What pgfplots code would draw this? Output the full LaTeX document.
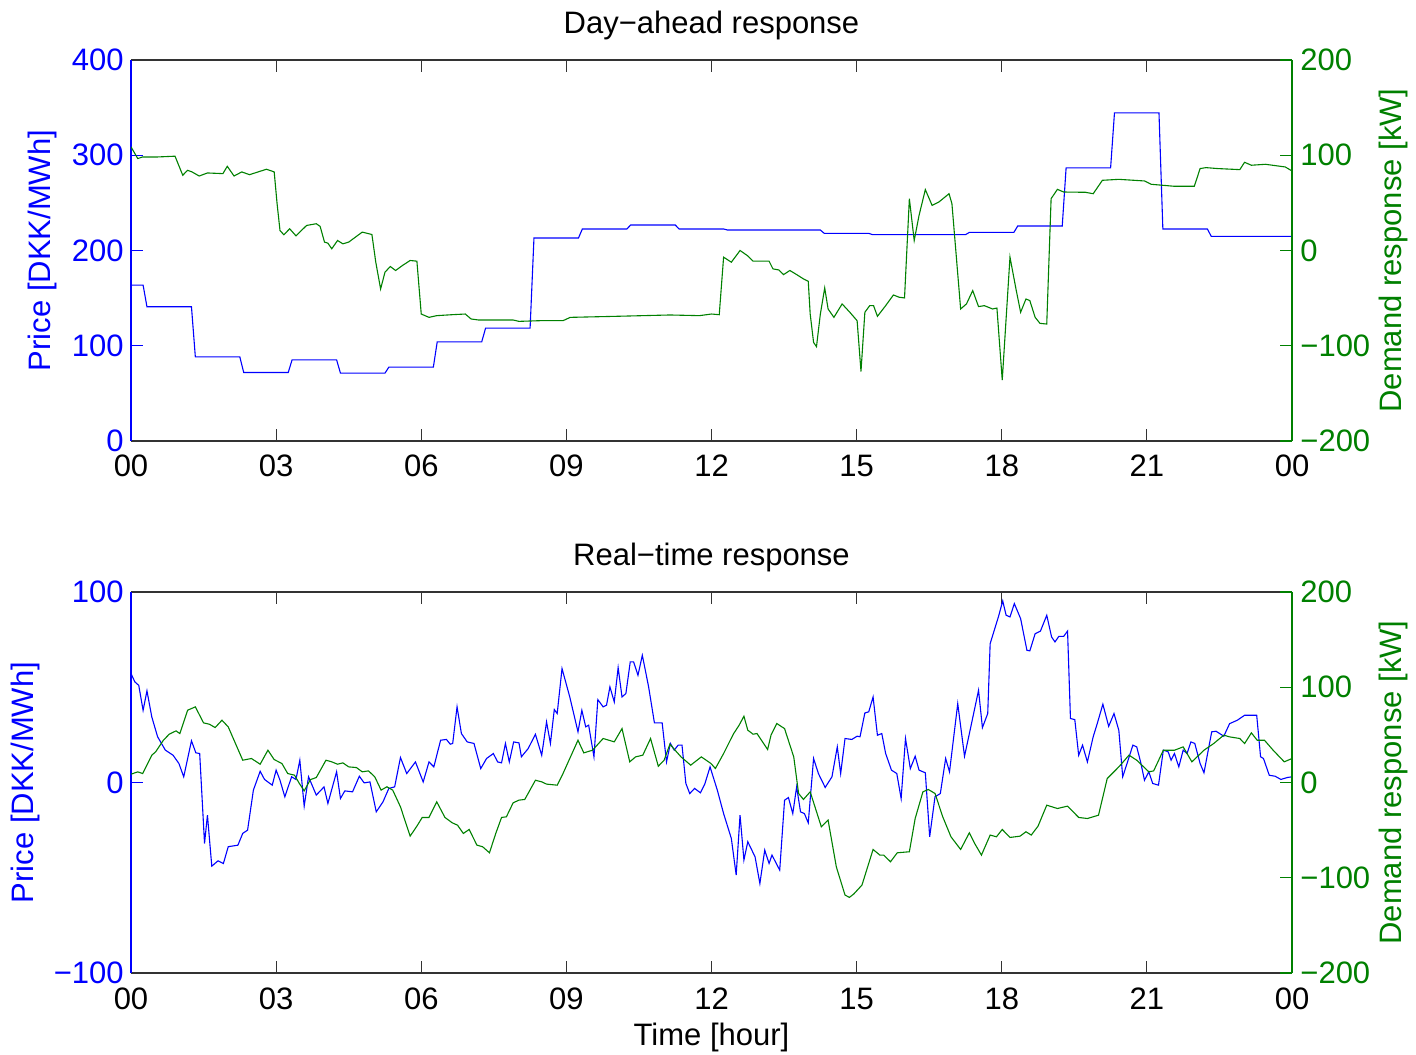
\documentclass[border=0pt]{standalone}
\usepackage{fontspec}
\setmainfont{Liberation Sans}
\usepackage{pgfplots}
\pgfplotsset{compat=1.18}

\definecolor{mblue}{rgb}{0,0,1}
\definecolor{mgreen}{rgb}{0,0.5,0}
\newcommand{\fs}{\fontsize{15.5}{18}\selectfont}

\pgfplotsset{
  base/.style={
    width=580.5pt, height=190.5pt, scale only axis,
    xmin=0, xmax=24,
    tick align=inside, major tick length=6pt,
    tick label style={font=\fs}, label style={font=\fs}, title style={font=\fs},
    axis line style={line width=0.6pt},
    every tick/.append style={line width=0.6pt},
  },
  leftax/.style={
    base,
    axis x line*=box, axis y line*=left,
    x axis line style={black!80}, y axis line style={mblue},
    xtick={0,3,...,24}, xticklabels={00,03,06,09,12,15,18,21,00},
    xtick style={black!80}, ytick style={mblue},
    xticklabel pos=lower,
    xticklabel style={anchor=base, yshift=-18pt},
    yticklabel style={mblue, inner sep=0pt, anchor=east, xshift=-3.5pt},
    title style={at={(0.5,1)}, anchor=base, yshift=7pt},
  },
  rightax/.style={
    base,
    axis x line=none, axis y line*=right, xtick=\empty,
    y axis line style={mgreen}, ytick style={mgreen},
    ymin=-200, ymax=200, ytick={-200,-100,0,100,200},
    yticklabels={−200,−100,0,100,200},
    yticklabel pos=right,
    yticklabel style={mgreen, inner sep=0pt, anchor=west, xshift=4pt},
    ylabel={Demand response [kW]},
    ylabel style={mgreen, at={(axis description cs:1,0.5)}, anchor=center, rotate=0, xshift=0pt, yshift=-50.5pt},
  },
}

\begin{document}
\begin{tikzpicture}
\useasboundingbox (-65.5pt,-40.5pt) rectangle (642.5pt,486.5pt);

% ---------- Day-ahead ----------
\begin{axis}[leftax, at={(0,266pt)},
  ymin=0, ymax=400, ytick={0,100,200,300,400},
  yticklabels={0,100,200,300,400},
  title={Day−ahead response},
  ylabel={Price [DKK/MWh]},
  ylabel style={mblue, at={(axis description cs:0,0.5)}, anchor=center, xshift=0pt, yshift=44.5pt},
]
\addplot[mblue, line width=0.55pt] coordinates {
(0,163.7) (0.25,163.7) (0.33,140.9) (1.25,140.9) (1.33,88.3) (2.25,88.3)
(2.33,71.9) (3.25,71.9) (3.33,85.2) (4.25,85.2) (4.33,71.2) (5.25,71.2)
(5.33,77.5) (6.25,77.5) (6.33,104.1) (7.25,104.1) (7.33,118.5) (8.25,118.5)
(8.33,213.1) (9.25,213.1) (9.33,222.6) (10.25,222.6) (10.33,226.8) (11.25,226.8)
(11.33,222.6) (12.25,222.6) (12.33,221.5) (14.25,221.5) (14.33,218) (15.25,218)
(15.33,216.6) (17.25,216.6) (17.33,219) (18.25,219) (18.33,225.7) (19.25,225.7)
(19.33,286.7) (20.25,286.7) (20.33,344.5) (21.25,344.5) (21.33,222.6) (22.25,222.6)
(22.33,214.9) (24,214.9)
};
\end{axis}
\begin{axis}[rightax, at={(0,266pt)}]
\addplot[mgreen, line width=0.55pt] coordinates {
(0,108.8) (0.14,96.5) (0.24,98.2) (0.55,98.2) (0.91,99) (1.07,79) (1.17,84.2)
(1.26,82.5) (1.41,78.2) (1.58,81.4) (1.90,80.7) (1.99,88.4) (2.13,78.2) (2.29,82.5)
(2.45,79.6) (2.80,85.3) (2.96,82.5) (3.02,49.1) (3.08,21) (3.16,16.5) (3.28,22.8)
(3.41,15.4) (3.63,26.3) (3.83,28.1) (3.91,25.3) (4.00,8.8) (4.07,7.7) (4.15,1.8)
(4.27,10.5) (4.38,7) (4.50,8.8) (4.78,19.3) (4.98,16.8) (5.06,-12.3) (5.16,-40.4)
(5.25,-22.8) (5.36,-16.8) (5.47,-21) (5.61,-15.8) (5.77,-10.5) (5.91,-11.2) (5.96,-42.1)
(6.00,-66.7) (6.16,-70.2) (6.32,-68.4) (6.64,-67.4) (6.91,-66.7) (7.03,-71.9) (7.19,-73)
(7.90,-73) (8.02,-74.4) (8.45,-73.7) (8.93,-73.7) (9.08,-70.2) (10.03,-69.1) (11.14,-67.7)
(11.75,-68.4) (12,-66.7) (12.16,-67.4) (12.25,-7) (12.41,-12.3) (12.59,0) (12.74,-5.3)
(12.86,-11.2) (13.06,-11.2) (13.19,-11.2) (13.27,-19.3) (13.39,-20.4) (13.49,-25.3)
(13.62,-21) (13.76,-25.3) (13.90,-29.8) (14.00,-32.3) (14.04,-66.7) (14.11,-96.5)
(14.17,-101) (14.25,-66.7) (14.34,-39.3) (14.41,-61.4) (14.53,-70.2) (14.70,-56.1)
(14.86,-64.9) (15.01,-73.7) (15.09,-127) (15.17,-64.9) (15.27,-57.9) (15.35,-57.9)
(15.43,-69.1) (15.60,-57.9) (15.76,-46.7) (15.88,-49.1) (15.99,-49.8) (16.09,54.4)
(16.19,10.5) (16.29,36.8) (16.42,63.9) (16.56,47.4) (16.70,50.9) (16.91,59.6)
(16.97,49.1) (17.15,-61.4) (17.27,-56.1) (17.40,-42.1) (17.52,-58.9) (17.64,-57.9)
(17.81,-61.4) (17.90,-60.4) (18.01,-136.1) (18.17,-7) (18.30,-42.1) (18.39,-64.9)
(18.50,-50.9) (18.58,-52.6) (18.69,-70.2) (18.79,-76.5) (18.93,-77.2) (19.02,54.4)
(19.15,64.2) (19.28,61.4) (19.73,61.1) (19.89,59.6) (20.08,73.7) (20.42,74.7)
(20.95,73) (21.09,69.5) (21.57,67.4) (21.98,67.4) (22.10,86) (22.22,87) (22.47,86)
(22.92,84.9) (23.02,92.6) (23.16,89.5) (23.45,90.5) (23.86,87.7) (24,83.5)
};
\end{axis}

% ---------- Real-time ----------
\begin{axis}[leftax, at={(0,0)},
  ymin=-100, ymax=100, ytick={-100,0,100},
  yticklabels={−100,0,100},
  title={Real−time response},
  ylabel={Price [DKK/MWh]},
  ylabel style={mblue, at={(axis description cs:0,0.5)}, anchor=center, xshift=0pt, yshift=53pt},
  xlabel={Time [hour]},
  xlabel style={at={(axis description cs:0.5,0)}, anchor=base, yshift=-36pt},
]
\addplot[mblue, line width=0.55pt] coordinates {
(0,57.2) (0.08,52.8) (0.16,51) (0.25,37.9) (0.33,48.1) (0.43,34.4) (0.55,24) (0.71,17)
(0.87,14.3) (0.99,10) (1.09,3) (1.25,21.9) (1.34,15.6) (1.42,15.2) (1.52,-32) (1.58,-17.1)
(1.67,-43.9) (1.80,-41.1) (1.91,-42.5) (2.01,-33.7) (2.21,-32.9) (2.31,-26.7) (2.41,-25)
(2.53,-4) (2.67,5.9) (2.76,1.6) (2.92,-1.4) (3.00,6.5) (3.08,1.2) (3.18,-7.5) (3.32,3)
(3.41,1.6) (3.49,11.7) (3.58,-12.4) (3.67,3) (3.83,-6.6) (3.99,-2.3) (4.07,-11) (4.25,5.6)
(4.33,-8.4) (4.42,-4.4) (4.58,-4.9) (4.72,3.3) (4.82,-0.2) (4.94,0.3) (5.07,-15.4)
(5.21,-10.1) (5.33,-3.1) (5.45,-2.3) (5.57,13.1) (5.70,4.7) (5.88,10.8) (6.04,0.3)
(6.16,10.8) (6.26,8.2) (6.40,22.2) (6.52,22.6) (6.60,20.1) (6.65,20.5) (6.74,39.7)
(6.83,25.7) (6.95,21.3) (7.09,20.5) (7.23,7.3) (7.35,12.6) (7.49,15.2) (7.58,10.8)
(7.66,10.3) (7.74,20.5) (7.82,10.8) (7.91,21.3) (8.02,20.8) (8.07,13.5) (8.21,17.8)
(8.36,25.3) (8.49,14.3) (8.59,31.8) (8.67,20.5) (8.75,38.3) (8.81,36.2) (8.91,59.8)
(9.07,44.9) (9.24,26.6) (9.32,37.9) (9.40,29.2) (9.46,30.1) (9.57,13.5) (9.65,43.5)
(9.76,39.7) (9.83,40.6) (9.90,50.2) (9.99,42.3) (10.07,60.3) (10.15,44.9) (10.23,46.7)
(10.32,63.3) (10.39,63.3) (10.48,56.3) (10.57,66.8) (10.70,50.2) (10.82,31.3)
(10.98,31.3) (11.07,10.8) (11.15,20.5) (11.23,17) (11.31,19.6) (11.39,19.6) (11.47,-0.5)
(11.55,-5.8) (11.65,-3.1) (11.77,-5.4) (11.86,-0.9) (11.97,8.2) (12.12,-4) (12.25,-16.3)
(12.41,-29.4) (12.51,-48.6) (12.59,-17.1) (12.67,-40.7) (12.75,-31.1) (12.90,-39)
(13.00,-53) (13.10,-35.5) (13.19,-42.5) (13.25,-38.1) (13.41,-46) (13.51,-9.3)
(13.59,-7.9) (13.68,-16.3) (13.76,-2.3) (13.84,-15.4) (13.92,-16.3) (14.00,-21.2)
(14.11,12.6) (14.21,4.7) (14.35,-2.6) (14.49,3) (14.60,18.7) (14.67,4.7) (14.76,23.1)
(14.90,22.6) (15.01,24.3) (15.07,24) (15.17,36.5) (15.25,37.1) (15.34,44.9) (15.43,24.8)
(15.52,25.7) (15.60,15.2) (15.72,6.5) (15.83,4.7) (15.92,-8.4) (16.01,23.1) (16.11,7.3)
(16.21,13.8) (16.29,6.5) (16.42,5.1) (16.51,-28.5) (16.62,-7.5) (16.73,-5.8) (16.84,12.6)
(16.92,5.6) (17.09,41.4) (17.23,13.8) (17.36,29.2) (17.52,48.4) (17.60,28.8) (17.71,36.2)
(17.76,72.9) (17.93,86.9) (18.02,95.3) (18.09,87.8) (18.17,86.9) (18.26,93.9) (18.39,86)
(18.52,69.4) (18.58,69.1) (18.69,78.1) (18.80,79.5) (18.93,87.8) (19.03,76.4) (19.10,73.8)
(19.18,76.7) (19.28,76.7) (19.36,79.5) (19.42,33.6) (19.51,33) (19.59,14.3) (19.67,19.6)
(19.77,10.8) (19.89,24) (19.97,30.6) (20.09,41.1) (20.21,29.5) (20.32,36.2) (20.42,27.4)
(20.50,3) (20.60,10.8) (20.71,19.6) (20.79,18.7) (20.87,10.8) (20.95,1.2) (21.04,5.6)
(21.12,-0.5) (21.24,-1.4) (21.34,17) (21.44,16.1) (21.50,11.7) (21.57,15.2) (21.66,8.2)
(21.75,17) (21.83,15.2) (21.91,21.3) (21.99,20.5) (22.10,10) (22.18,5.1) (22.34,26.6)
(22.43,26.9) (22.59,24.3) (22.71,30.9) (22.87,32.7) (23.02,35.3) (23.27,35.3) (23.35,13.5)
(23.41,12.6) (23.53,3.8) (23.65,3.3) (23.77,1.6) (23.90,2.6) (24,3)
};
\end{axis}
\begin{axis}[rightax, at={(0,0)}]
\addplot[mgreen, line width=0.55pt] coordinates {
(0,8.7) (0.14,11.2) (0.24,9.4) (0.43,28.7) (0.51,32.2) (0.67,44.4) (0.79,50.7) (0.93,54.2)
(1.01,51.4) (1.17,75.9) (1.33,79.4) (1.50,62.6) (1.62,61.2) (1.74,57.7) (1.88,65.4)
(2.01,58.4) (2.13,44.4) (2.31,23.4) (2.49,25.2) (2.67,19.2) (2.83,33.9) (2.96,24.1)
(3.12,19.9) (3.24,9.4) (3.38,7.7) (3.48,-1) (3.58,-8.7) (3.71,3.1) (3.83,5.2) (4.03,23.4)
(4.15,21.7) (4.27,19.2) (4.38,20.6) (4.50,16.4) (4.66,15.7) (4.78,11.2) (4.91,12.2)
(5.04,5.9) (5.17,-8) (5.29,-4.5) (5.41,-8) (5.57,-25.5) (5.77,-56.3) (5.91,-45.8)
(6.02,-36.7) (6.16,-36.7) (6.32,-20.3) (6.49,-36.7) (6.64,-42.3) (6.75,-44.8) (6.87,-53.5)
(6.99,-49.3) (7.15,-65.7) (7.27,-67.5) (7.41,-73.8) (7.54,-53.5) (7.66,-36.7) (7.76,-36)
(7.90,-21.3) (8.02,-18.5) (8.14,-17.8) (8.36,2.4) (8.49,0.7) (8.59,-1.7) (8.81,-2.8)
(8.93,9.4) (9.24,44.4) (9.36,31.1) (9.54,33.9) (9.76,46.2) (9.99,42.7) (10.15,56.6)
(10.31,21.7) (10.43,26.9) (10.58,28.7) (10.74,46.2) (10.90,17.1) (11.02,23.4) (11.14,40.2)
(11.26,33.2) (11.37,26.9) (11.57,18.2) (11.79,26.9) (11.99,19.9) (12.08,14.7) (12.25,30.4)
(12.45,50.7) (12.57,60.1) (12.67,69.6) (12.75,54.9) (12.86,50.7) (12.94,51.4) (13.16,34.6)
(13.23,49.7) (13.35,61.9) (13.51,56.6) (13.70,26.9) (13.80,-11.5) (13.90,-17.8)
(14.04,-9.8) (14.27,-46.5) (14.41,-39.5) (14.58,-88.5) (14.76,-118.2) (14.85,-120.6)
(14.94,-117.1) (15.11,-107.7) (15.34,-70.3) (15.48,-76.2) (15.56,-76.2) (15.70,-83.2)
(15.84,-73.8) (16.09,-72.7) (16.21,-37.8) (16.37,-9.8) (16.48,-7.3) (16.62,-11.5)
(16.78,-36) (16.95,-57) (17.15,-70.3) (17.33,-52.8) (17.44,-64) (17.58,-76.2) (17.76,-55.2)
(17.89,-57) (18.01,-49.3) (18.17,-57.7) (18.38,-56.3) (18.50,-51.7) (18.61,-55.2)
(18.75,-45.8) (18.93,-23.8) (19.15,-27.3) (19.36,-24.8) (19.59,-36.7) (19.77,-37.8)
(20.00,-34.3) (20.18,4.2) (20.42,16.4) (20.63,28.7) (20.79,23.4) (21.04,11.2) (21.14,12.2)
(21.34,33.9) (21.57,33.9) (21.75,37.4) (21.93,21.7) (22.18,33.9) (22.38,40.9) (22.59,49.7)
(22.71,47.9) (22.92,46.2) (23.02,40.9) (23.16,52.1) (23.28,44.4) (23.43,44.4) (23.61,33.9)
(23.84,21.7) (24,25.2)
};
\end{axis}
\end{tikzpicture}
\end{document}
